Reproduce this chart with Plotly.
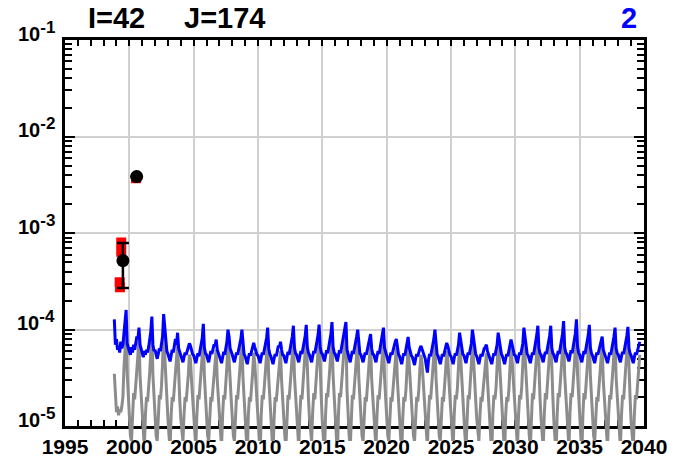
import math
import plotly.graph_objects as go

# ---------------- data ----------------
# monthly series, first point = Nov 1998, values in units of 1e-6
START_YEAR = 1998
START_MONTH = 10  # 0-based month index (Nov)
blue_e6 = [
    128, 70,
    80, 62, 68, 58, 75, 64, 70, 92, 120, 160, 72, 64,
    60, 55, 66, 58, 70, 62, 75, 85, 80, 105, 70, 62,
    58, 52, 60, 55, 62, 58, 66, 78, 95, 137, 70, 60,
    62, 55, 50, 56, 64, 60, 70, 85, 145, 100, 68, 60,
    56, 50, 47, 54, 62, 58, 66, 80, 70, 93, 64, 58,
    55, 50, 46, 52, 58, 55, 60, 65, 72, 68, 60, 56,
    54, 49, 45, 51, 57, 53, 60, 70, 82, 115, 65, 57,
    55, 50, 46, 53, 60, 56, 62, 70, 68, 79, 62, 56,
    54, 49, 45, 52, 59, 55, 63, 75, 100, 85, 64, 57,
    55, 50, 46, 52, 58, 55, 62, 72, 80, 100, 64, 56,
    53, 48, 44, 51, 57, 54, 60, 68, 73, 66, 60, 55,
    54, 49, 45, 52, 58, 55, 62, 74, 82, 105, 64, 56,
    53, 48, 44, 50, 56, 53, 60, 68, 66, 75, 62, 55,
    54, 49, 45, 52, 59, 55, 63, 75, 85, 110, 65, 57,
    55, 50, 46, 53, 60, 56, 64, 76, 86, 112, 66, 58,
    55, 50, 46, 53, 60, 57, 64, 76, 88, 113, 66, 58,
    56, 51, 47, 54, 61, 57, 65, 78, 90, 120, 67, 58,
    56, 51, 47, 54, 61, 57, 65, 76, 88, 100, 120, 62,
    56, 50, 46, 53, 60, 56, 63, 74, 85, 100, 66, 57,
    55, 50, 46, 52, 58, 55, 62, 72, 78, 90, 64, 56,
    55, 50, 46, 53, 60, 56, 64, 75, 85, 105, 65, 57,
    54, 49, 45, 52, 58, 55, 62, 70, 75, 80, 62, 56,
    53, 48, 44, 51, 57, 54, 62, 68, 84, 66, 58, 54,
    52, 47, 43, 50, 56, 53, 60, 64, 68, 62, 58, 54,
    50, 42, 36, 48, 56, 53, 60, 70, 80, 100, 64, 56,
    53, 48, 44, 50, 56, 53, 60, 66, 73, 68, 60, 55,
    53, 48, 44, 51, 57, 54, 61, 70, 93, 78, 62, 56,
    54, 49, 45, 52, 58, 55, 62, 72, 100, 82, 63, 56,
    53, 48, 44, 50, 56, 53, 60, 64, 66, 70, 60, 55,
    53, 48, 44, 51, 57, 54, 61, 70, 93, 78, 62, 56,
    53, 48, 44, 50, 56, 53, 60, 66, 79, 70, 60, 55,
    54, 49, 45, 52, 58, 55, 62, 72, 105, 82, 63, 56,
    54, 49, 45, 52, 58, 55, 63, 74, 88, 110, 64, 57,
    55, 50, 46, 53, 59, 56, 64, 75, 86, 110, 65, 57,
    55, 50, 46, 53, 60, 56, 64, 76, 90, 123, 66, 58,
    56, 51, 47, 54, 61, 57, 65, 78, 92, 128, 67, 58,
    55, 50, 46, 53, 60, 56, 64, 76, 88, 112, 65, 57,
    54, 49, 45, 52, 58, 55, 62, 70, 78, 85, 62, 56,
    54, 49, 45, 52, 58, 55, 63, 74, 85, 105, 64, 57,
    55, 50, 46, 53, 59, 56, 63, 75, 86, 107, 64, 57,
    54, 49, 45, 52, 58, 55, 62, 68, 75,
]
gray_e6 = [
    35, 20,
    14, 16, 13, 15, 14, 16, 20, 40, 70, 95, 35, 20,
    12, 8, 7, 14, 22, 19, 25, 38, 55, 85, 33, 20,
    13, 9, 6, 13, 20, 18, 24, 36, 60, 100, 34, 20,
    12, 8, 7, 14, 21, 19, 26, 45, 105, 55, 30, 19,
    12, 8, 6, 13, 20, 18, 24, 36, 50, 75, 32, 19,
    12, 9, 7, 13, 20, 18, 24, 34, 55, 50, 30, 19,
    12, 8, 6, 13, 21, 19, 25, 38, 55, 90, 33, 20,
    12, 8, 7, 13, 20, 18, 24, 35, 48, 62, 30, 19,
    12, 8, 6, 13, 21, 19, 26, 42, 80, 55, 31, 19,
    12, 8, 7, 14, 21, 19, 25, 38, 55, 80, 32, 19,
    11, 7, 5, 13, 20, 18, 24, 36, 58, 45, 29, 18,
    11, 6, 5, 13, 21, 19, 25, 38, 56, 85, 32, 19,
    11, 7, 5, 12, 20, 18, 24, 35, 48, 60, 30, 18,
    12, 8, 6, 13, 21, 19, 25, 38, 58, 90, 33, 20,
    12, 8, 6, 13, 21, 19, 26, 39, 60, 92, 33, 20,
    12, 8, 7, 14, 22, 19, 26, 40, 60, 92, 34, 20,
    11, 7, 5, 13, 22, 20, 26, 40, 62, 98, 34, 20,
    11, 6, 5, 13, 22, 20, 26, 40, 58, 80, 98, 24,
    12, 8, 6, 13, 21, 19, 25, 38, 56, 82, 32, 19,
    12, 8, 7, 13, 20, 18, 24, 36, 52, 72, 31, 19,
    12, 8, 6, 13, 21, 19, 25, 38, 56, 86, 32, 19,
    12, 8, 7, 13, 20, 18, 24, 35, 50, 65, 30, 19,
    11, 7, 5, 12, 20, 18, 24, 40, 68, 45, 29, 18,
    12, 8, 7, 13, 20, 18, 24, 40, 55, 45, 29, 18,
    11, 7, 6, 13, 21, 19, 25, 38, 56, 82, 32, 19,
    12, 8, 7, 13, 20, 18, 24, 38, 60, 50, 30, 19,
    12, 8, 6, 13, 21, 19, 25, 42, 76, 52, 31, 19,
    12, 8, 6, 13, 21, 19, 26, 44, 82, 55, 31, 19,
    12, 8, 7, 13, 20, 18, 24, 36, 50, 57, 30, 19,
    11, 7, 5, 13, 21, 19, 25, 42, 76, 52, 31, 19,
    11, 6, 5, 13, 20, 18, 24, 40, 64, 48, 30, 18,
    12, 8, 6, 13, 21, 19, 26, 45, 86, 56, 32, 19,
    12, 8, 6, 13, 22, 19, 26, 40, 60, 90, 33, 20,
    12, 8, 6, 13, 22, 19, 26, 40, 60, 90, 33, 20,
    11, 6, 5, 13, 22, 20, 27, 42, 64, 100, 34, 20,
    12, 8, 6, 14, 22, 20, 27, 42, 66, 104, 35, 20,
    11, 7, 5, 13, 22, 19, 26, 40, 62, 92, 33, 20,
    12, 8, 7, 13, 20, 18, 24, 36, 52, 70, 30, 19,
    12, 8, 6, 13, 21, 19, 25, 39, 58, 86, 32, 19,
    12, 8, 6, 13, 21, 19, 26, 40, 60, 88, 33, 20,
    11, 7, 6, 13, 21, 19, 25, 38, 55,
]

obs_red_x = [1999.37, 1999.37, 1999.25, 1999.27, 2000.52]
obs_red_y = [8.0e-4, 6.4e-4, 3.1e-4, 2.75e-4, 3.7e-3]
mean_x = [1999.5, 2000.57]
mean_y = [5.2e-4, 3.85e-3]
mean_err_plus = [2.7e-4, 0.0]
mean_err_minus = [2.5e-4, 0.0]

x_tick_vals = [1995, 2000, 2005, 2010, 2015, 2020, 2025, 2030, 2035, 2040]
y_tick_vals = [1e-5, 1e-4, 1e-3, 1e-2, 1e-1]
y_tick_exp = ["-5", "-4", "-3", "-2", "-1"]
title_left = "I=42"
title_mid = "J=174"
title_right = "2"

# ---------------- geometry (page px; body margin removed) ----------------
FIG_W, FIG_H = 686, 470
M_L, M_R, M_T, M_B = 65, 42, 40, 22
PLOT_W = FIG_W - M_L - M_R          # 579
PLOT_H = FIG_H - M_T - M_B          # 408
OVERHANG = 15                        # data may run this far below the bottom axis
X_RANGE = [1995, 2040]
Y_LOG_RANGE = [-5, -1]
PX_PER_DEC = (PLOT_H - OVERHANG) / (Y_LOG_RANGE[1] - Y_LOG_RANGE[0])
Y_DATA_RANGE = [Y_LOG_RANGE[0] - OVERHANG / PX_PER_DEC, Y_LOG_RANGE[1]]


def month_x(n):
    return [START_YEAR + (START_MONTH + i) / 12.0 for i in range(n)]


def py(page_y):  # page pixel y -> paper fraction
    return (FIG_H - M_B - page_y) / PLOT_H


def px(page_x):
    return (page_x - M_L) / PLOT_W


FONT = "Liberation Sans, Arial, sans-serif"

fig = go.Figure()
# empty trace so that the axis-only subplot exists
fig.add_trace(go.Scatter(x=[], y=[], xaxis="x", yaxis="y", showlegend=False, hoverinfo="skip"))
# data subplot (same scales, allowed to run slightly below the bottom axis)
fig.add_trace(go.Scatter(x=month_x(len(gray_e6)), y=[v * 1e-6 for v in gray_e6],
                         xaxis="x3", yaxis="y3",
                         mode="lines", line=dict(color="#8c8c8c", width=3),
                         showlegend=False))
fig.add_trace(go.Scatter(x=month_x(len(blue_e6)), y=[v * 1e-6 for v in blue_e6],
                         xaxis="x3", yaxis="y3",
                         mode="lines", line=dict(color="#0000ff", width=3),
                         showlegend=False))
fig.add_trace(go.Scatter(x=obs_red_x, y=obs_red_y, mode="markers",
                         xaxis="x3", yaxis="y3",
                         marker=dict(symbol="square", size=10, color="#ff0000"),
                         showlegend=False))
fig.add_trace(go.Scatter(x=mean_x, y=mean_y, mode="markers",
                         xaxis="x3", yaxis="y3",
                         marker=dict(symbol="circle", size=13, color="black"),
                         error_y=dict(type="data", array=mean_err_plus,
                                      arrayminus=mean_err_minus, symmetric=False,
                                      color="black", thickness=2.5, width=6),
                         showlegend=False))

hidden = dict(showgrid=False, showline=False, zeroline=False, showticklabels=False,
              ticks="")
main_y_domain = [OVERHANG / PLOT_H, 1]

# y tick labels as text annotations anchored to the log axis (slightly raised)
y_label_annots = [
    dict(text="10<sup><span style='font-size:17px'>%s</span></sup>" % e,
         xref="paper", yref="y", x=-8.0 / PLOT_W, y=math.log10(v),
         xanchor="right", yanchor="middle", yshift=9, showarrow=False,
         font=dict(family=FONT, size=20, weight="bold", color="black"))
    for v, e in zip(y_tick_vals, y_tick_exp)
]

fig.update_layout(
    width=FIG_W, height=FIG_H,
    margin=dict(l=M_L, r=M_R, t=M_T, b=M_B),
    paper_bgcolor="white", plot_bgcolor="rgba(0,0,0,0)",
    font=dict(family=FONT, color="black"),
    xaxis=dict(range=X_RANGE, tickmode="array", tickvals=x_tick_vals, anchor="y",
               ticks="inside", ticklen=6, tickwidth=2, tickcolor="black",
               showline=True, linewidth=3, linecolor="black", mirror="ticks",
               showgrid=True, gridcolor="#d0d0d0", gridwidth=2, zeroline=False,
               tickfont=dict(family=FONT, size=21, weight="bold"),
               minor=dict(dtick=1, tick0=1995, ticks="inside", ticklen=6, tickwidth=2,
                          tickcolor="black", showgrid=False)),
    yaxis=dict(type="log", range=Y_LOG_RANGE, domain=main_y_domain, anchor="x",
               tickmode="array", tickvals=y_tick_vals, showticklabels=False,
               ticks="inside", ticklen=10, tickwidth=2, tickcolor="black",
               showline=True, linewidth=3, linecolor="black", mirror="ticks",
               showgrid=True, gridcolor="#d0d0d0", gridwidth=2, zeroline=False,
               minor=dict(dtick="D1", ticks="inside", ticklen=7, tickwidth=2,
                          tickcolor="black", showgrid=False)),
    xaxis3=dict(range=X_RANGE, anchor="y3", **hidden),
    yaxis3=dict(type="log", range=Y_DATA_RANGE, domain=[0, 1], anchor="x3", **hidden),
    annotations=y_label_annots + [
        dict(text=title_left, xref="paper", yref="paper", x=px(86), y=py(18),
             xanchor="left", yanchor="middle", showarrow=False,
             font=dict(family=FONT, size=29, weight="bold", color="black")),
        dict(text=title_mid, xref="paper", yref="paper", x=px(182), y=py(18),
             xanchor="left", yanchor="middle", showarrow=False,
             font=dict(family=FONT, size=29, weight="bold", color="black")),
        dict(text=title_right, xref="paper", yref="paper", x=px(639), y=py(18),
             xanchor="right", yanchor="middle", showarrow=False,
             font=dict(family=FONT, size=29, weight="bold", color="#0000ff")),
    ],
)

PAGE_FIX = (
    "var h=document.documentElement.style; h.margin='0'; h.padding='0';"
    "h.overflow='hidden'; h.height='470px';"
    "var b=document.body.style; b.margin='0'; b.padding='0';"
    "b.overflow='hidden'; b.height='470px';"
)
fig.write_html("out.html", config={"displayModeBar": False}, post_script=PAGE_FIX)
